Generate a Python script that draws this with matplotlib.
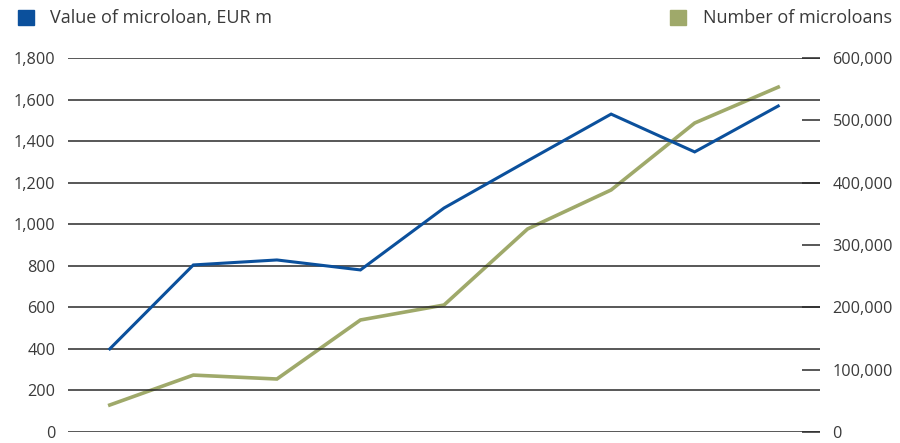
import matplotlib
matplotlib.use("Agg")
import matplotlib.pyplot as plt
from matplotlib.patches import Rectangle
from matplotlib.ticker import FuncFormatter

plt.rcParams['font.family'] = ['Open Sans', 'DejaVu Sans']

years = list(range(9))
value_eur_m = [400, 804, 828, 780, 1078, 1305, 1530, 1348, 1569]
number_loans = [43300, 91300, 85000, 179700, 203700, 325700, 388300, 495700, 553300]
left_ticks = [0, 200, 400, 600, 800, 1000, 1200, 1400, 1600, 1800]
right_ticks = [0, 100000, 200000, 300000, 400000, 500000, 600000]

blue = '#0b509c'
green = '#9fa96a'
txt = '#3a3a3a'

fig = plt.figure(figsize=(9, 4.43), dpi=100)
ax = fig.add_axes([68/900, 1-432/443, (820-68)/900, (432-58)/443])
ax2 = ax.twinx()

ax.plot(years, value_eur_m, color=blue, lw=2.2, zorder=3, solid_joinstyle='miter')
ax2.plot(years, number_loans, color=green, lw=2.6, zorder=3, solid_joinstyle='miter')

ax.set_xlim(-0.5, 8.5)
ax.set_ylim(0, 1800)
ax2.set_ylim(0, 600000)
ax.set_yticks(left_ticks)
ax2.set_yticks(right_ticks)
fmt = FuncFormatter(lambda v, p: f"{int(v):,}")
ax.yaxis.set_major_formatter(fmt)
ax2.yaxis.set_major_formatter(fmt)

ax.set_xticks([])
ax.grid(axis='y', color='#2a2a2a', lw=1.1)
ax.set_axisbelow(True)
for a in (ax, ax2):
    for s in a.spines.values():
        s.set_visible(False)
ax.tick_params(axis='y', length=0, pad=9, labelsize=11.7, labelcolor=txt)
ax2.tick_params(axis='y', direction='in', length=13, width=1.1, color='#2a2a2a',
                pad=9, labelsize=11.7, labelcolor=txt)
ax.set_zorder(ax2.get_zorder() + 1)
ax.patch.set_visible(False)

fig.patches.append(Rectangle((18/900, 1-25/443), 16/900, 15/443, transform=fig.transFigure,
                             color=blue))
fig.text(50/900, 1-18/443, 'Value of microloan, EUR m', fontsize=13, color=txt, va='center')
fig.patches.append(Rectangle((670/900, 1-25/443), 16/900, 15/443, transform=fig.transFigure,
                             color=green))
fig.text(703/900, 1-18/443, 'Number of microloans', fontsize=13, color=txt, va='center')

fig.savefig('out.png', dpi=100)
